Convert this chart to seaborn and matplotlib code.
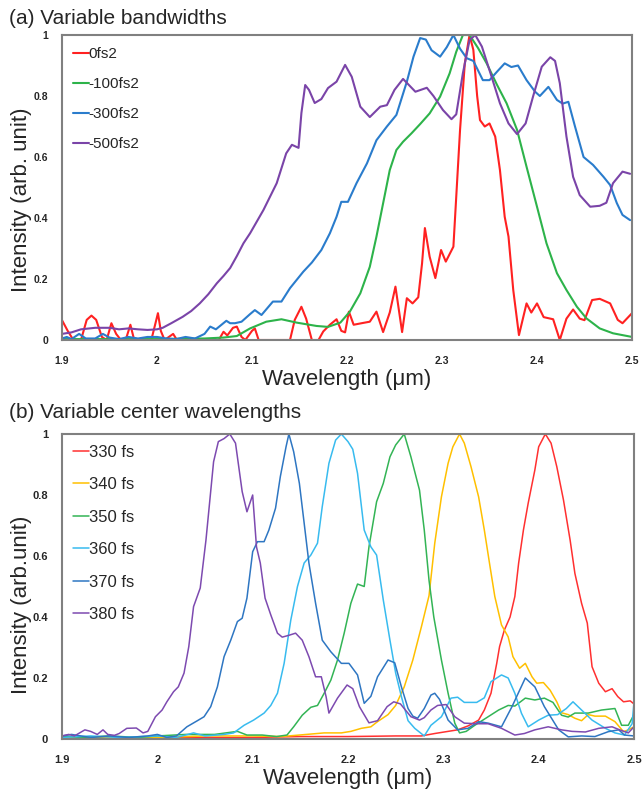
import pandas as pd
import numpy as np
import matplotlib
matplotlib.use("Agg")
import matplotlib.pyplot as plt
import seaborn as sns

# ---- (a) variable bandwidths: values ----
red_a_x = [1.900, 1.906, 1.912, 1.920, 1.926, 1.931, 1.936, 1.942, 1.947, 1.952, 1.957, 1.962,
           1.967, 1.972, 1.976, 1.994, 1.998, 2.001, 2.004, 2.008, 2.017, 2.021, 2.065, 2.070,
           2.074, 2.080, 2.084, 2.089, 2.093, 2.100, 2.103, 2.107, 2.140, 2.145, 2.152, 2.157,
           2.163, 2.170, 2.175, 2.182, 2.189, 2.194, 2.198, 2.202, 2.207, 2.217, 2.224, 2.231,
           2.238, 2.245, 2.251, 2.255, 2.258, 2.263, 2.269, 2.275, 2.279, 2.282, 2.287, 2.293,
           2.299, 2.304, 2.312, 2.315, 2.319, 2.324, 2.329, 2.333, 2.337, 2.340, 2.345, 2.350,
           2.356, 2.361, 2.366, 2.370, 2.375, 2.381, 2.389, 2.394, 2.400, 2.407, 2.417, 2.424,
           2.431, 2.438, 2.445, 2.450, 2.458, 2.466, 2.477, 2.485, 2.490, 2.500]
red_a_y = [0.065, 0.030, 0.000, 0.000, 0.066, 0.080, 0.066, 0.010, 0.000, 0.055, 0.020, 0.000,
           0.000, 0.050, 0.000, 0.000, 0.050, 0.088, 0.030, 0.000, 0.020, 0.000, 0.000, 0.027,
           0.015, 0.040, 0.044, 0.010, 0.000, 0.030, 0.038, 0.000, 0.000, 0.066, 0.109, 0.070,
           0.000, 0.000, 0.028, 0.050, 0.068, 0.030, 0.025, 0.093, 0.050, 0.056, 0.060, 0.093,
           0.026, 0.090, 0.175, 0.090, 0.026, 0.137, 0.120, 0.140, 0.251, 0.367, 0.273, 0.203,
           0.295, 0.257, 0.306, 0.470, 0.689, 0.907, 1.000, 0.951, 0.800, 0.721, 0.700, 0.710,
           0.667, 0.557, 0.404, 0.339, 0.164, 0.016, 0.120, 0.090, 0.120, 0.075, 0.068, 0.000,
           0.070, 0.100, 0.070, 0.065, 0.131, 0.135, 0.120, 0.066, 0.055, 0.088]

green_a_x = [1.900, 1.950, 2.000, 2.050, 2.070, 2.084, 2.098, 2.115, 2.131, 2.147, 2.168, 2.180,
             2.193, 2.203, 2.214, 2.224, 2.231, 2.238, 2.245, 2.252, 2.259, 2.268, 2.277, 2.287,
             2.298, 2.308, 2.315, 2.322, 2.329, 2.338, 2.347, 2.358, 2.368, 2.379, 2.389, 2.400,
             2.410, 2.421, 2.431, 2.442, 2.452, 2.466, 2.480, 2.500]
green_a_y = [0.003, 0.003, 0.003, 0.005, 0.008, 0.013, 0.038, 0.060, 0.068, 0.057, 0.046, 0.043,
             0.057, 0.093, 0.153, 0.240, 0.339, 0.448, 0.557, 0.623, 0.650, 0.678, 0.708, 0.743,
             0.798, 0.874, 0.945, 1.000, 1.000, 0.957, 0.907, 0.836, 0.776, 0.689, 0.568, 0.437,
             0.317, 0.219, 0.164, 0.109, 0.071, 0.038, 0.022, 0.010]

blue_a_x = [1.900, 1.905, 1.910, 1.918, 1.925, 1.935, 1.943, 1.950, 1.960, 1.970, 1.980, 1.990,
            2.000, 2.010, 2.020, 2.030, 2.040, 2.050, 2.056, 2.062, 2.073, 2.077, 2.082, 2.089,
            2.098, 2.103, 2.110, 2.122, 2.131, 2.140, 2.154, 2.163, 2.173, 2.182, 2.189, 2.194,
            2.201, 2.210, 2.221, 2.231, 2.242, 2.252, 2.263, 2.270, 2.277, 2.283, 2.289, 2.298,
            2.305, 2.312, 2.319, 2.326, 2.333, 2.343, 2.350, 2.358, 2.366, 2.373, 2.380, 2.389,
            2.398, 2.403, 2.412, 2.421, 2.427, 2.433, 2.440, 2.449, 2.459, 2.470, 2.477, 2.484,
            2.490, 2.498]
blue_a_y = [0.005, 0.010, 0.003, 0.020, 0.005, 0.005, 0.020, 0.008, 0.003, 0.010, 0.005, 0.010,
            0.010, 0.005, 0.003, 0.010, 0.005, 0.020, 0.044, 0.035, 0.063, 0.055, 0.055, 0.060,
            0.085, 0.098, 0.082, 0.126, 0.126, 0.170, 0.224, 0.254, 0.295, 0.350, 0.404, 0.453,
            0.453, 0.514, 0.579, 0.655, 0.700, 0.738, 0.847, 0.929, 0.990, 0.985, 0.950, 0.929,
            0.960, 1.000, 0.955, 0.924, 0.915, 0.852, 0.852, 0.880, 0.907, 0.895, 0.900, 0.852,
            0.814, 0.800, 0.830, 0.787, 0.775, 0.781, 0.700, 0.600, 0.574, 0.535, 0.508, 0.449,
            0.410, 0.393]

purple_a_x = [1.900, 1.910, 1.920, 1.935, 1.950, 1.960, 1.970, 1.980, 1.990, 2.000, 2.006, 2.015,
              2.027, 2.036, 2.045, 2.054, 2.063, 2.070, 2.077, 2.084, 2.091, 2.098, 2.112, 2.126,
              2.136, 2.142, 2.149, 2.152, 2.156, 2.160, 2.166, 2.173, 2.180, 2.189, 2.198, 2.205,
              2.214, 2.224, 2.235, 2.242, 2.250, 2.259, 2.272, 2.284, 2.291, 2.301, 2.310, 2.315,
              2.322, 2.329, 2.335, 2.342, 2.351, 2.361, 2.370, 2.379, 2.388, 2.396, 2.405, 2.414,
              2.419, 2.424, 2.431, 2.438, 2.445, 2.456, 2.466, 2.473, 2.480, 2.490, 2.498]
purple_a_y = [0.020, 0.025, 0.035, 0.040, 0.040, 0.035, 0.038, 0.035, 0.033, 0.035, 0.040, 0.055,
              0.076, 0.095, 0.120, 0.150, 0.186, 0.210, 0.236, 0.275, 0.317, 0.350, 0.426, 0.514,
              0.612, 0.640, 0.630, 0.744, 0.836, 0.820, 0.777, 0.790, 0.826, 0.847, 0.902, 0.863,
              0.765, 0.731, 0.765, 0.770, 0.820, 0.856, 0.814, 0.827, 0.800, 0.754, 0.724, 0.740,
              0.875, 0.983, 1.000, 0.962, 0.875, 0.776, 0.710, 0.675, 0.710, 0.800, 0.896, 0.927,
              0.915, 0.842, 0.667, 0.535, 0.475, 0.437, 0.440, 0.450, 0.514, 0.552, 0.545]

labels_a = ["0fs2", "-100fs2", "-300fs2", "-500fs2"]
colors_a = ["#ff2121", "#2db34a", "#2a7ccc", "#7a44a8"]

# ---- (b) variable center wavelengths ----
red_b_x = [1.900, 1.950, 2.000, 2.050, 2.100, 2.150, 2.200, 2.250, 2.277, 2.291, 2.305, 2.315,
           2.326, 2.337, 2.343, 2.350, 2.356, 2.359, 2.364, 2.370, 2.375, 2.379, 2.384, 2.389,
           2.396, 2.400, 2.407, 2.413, 2.419, 2.426, 2.433, 2.438, 2.445, 2.451, 2.456, 2.463,
           2.470, 2.477, 2.483, 2.489, 2.496, 2.500]
red_b_y = [0.005, 0.005, 0.003, 0.005, 0.005, 0.008, 0.008, 0.010, 0.010, 0.018, 0.025, 0.030,
           0.043, 0.062, 0.095, 0.150, 0.248, 0.303, 0.357, 0.400, 0.467, 0.577, 0.685, 0.773,
           0.882, 0.958, 1.000, 0.970, 0.893, 0.784, 0.652, 0.543, 0.445, 0.380, 0.237, 0.183,
           0.155, 0.165, 0.139, 0.122, 0.125, 0.115]

orange_b_x = [1.900, 1.950, 2.000, 2.050, 2.100, 2.130, 2.164, 2.175, 2.193, 2.203, 2.214, 2.224,
              2.231, 2.242, 2.250, 2.259, 2.268, 2.277, 2.285, 2.291, 2.298, 2.305, 2.310, 2.317,
              2.322, 2.329, 2.337, 2.343, 2.349, 2.354, 2.361, 2.368, 2.373, 2.380, 2.386, 2.393,
              2.398, 2.405, 2.412, 2.419, 2.424, 2.431, 2.438, 2.445, 2.452, 2.459, 2.470, 2.480,
              2.489, 2.494, 2.500]
orange_b_y = [0.005, 0.005, 0.005, 0.010, 0.010, 0.008, 0.017, 0.020, 0.020, 0.025, 0.035, 0.040,
              0.057, 0.080, 0.110, 0.171, 0.259, 0.368, 0.470, 0.642, 0.794, 0.904, 0.958, 1.000,
              0.970, 0.893, 0.794, 0.685, 0.565, 0.467, 0.374, 0.335, 0.270, 0.232, 0.248, 0.204,
              0.183, 0.185, 0.160, 0.122, 0.086, 0.080, 0.068, 0.060, 0.080, 0.075, 0.075, 0.057,
              0.024, 0.030, 0.040]

green_b_x = [1.900, 1.920, 1.950, 1.980, 2.000, 2.030, 2.060, 2.084, 2.094, 2.110, 2.125, 2.136,
             2.143, 2.152, 2.161, 2.168, 2.175, 2.182, 2.189, 2.196, 2.203, 2.210, 2.217, 2.222,
             2.230, 2.237, 2.244, 2.250, 2.259, 2.266, 2.275, 2.280, 2.285, 2.290, 2.298, 2.305,
             2.312, 2.317, 2.324, 2.333, 2.347, 2.358, 2.368, 2.375, 2.386, 2.396, 2.406, 2.415,
             2.424, 2.431, 2.438, 2.452, 2.466, 2.480, 2.487, 2.494, 2.500]
green_b_y = [0.010, 0.005, 0.010, 0.005, 0.010, 0.015, 0.015, 0.025, 0.013, 0.013, 0.008, 0.013,
             0.040, 0.078, 0.104, 0.110, 0.150, 0.193, 0.259, 0.347, 0.445, 0.508, 0.500, 0.630,
             0.778, 0.838, 0.925, 0.964, 1.000, 0.925, 0.816, 0.685, 0.520, 0.400, 0.259, 0.150,
             0.052, 0.020, 0.025, 0.045, 0.073, 0.095, 0.110, 0.108, 0.134, 0.128, 0.134, 0.120,
             0.078, 0.072, 0.085, 0.085, 0.095, 0.100, 0.045, 0.045, 0.080]

cyan_b_x = [1.900, 1.930, 1.960, 2.000, 2.020, 2.038, 2.050, 2.070, 2.080, 2.091, 2.101, 2.112,
            2.119, 2.126, 2.133, 2.140, 2.147, 2.154, 2.161, 2.168, 2.173, 2.180, 2.187, 2.193,
            2.200, 2.205, 2.210, 2.217, 2.224, 2.230, 2.237, 2.244, 2.250, 2.256, 2.263, 2.270,
            2.280, 2.287, 2.298, 2.308, 2.315, 2.322, 2.335, 2.343, 2.350, 2.361, 2.368, 2.375,
            2.382, 2.389, 2.400, 2.410, 2.420, 2.429, 2.436, 2.445, 2.456, 2.470, 2.480, 2.490,
            2.498, 2.500]
cyan_b_y = [0.005, 0.010, 0.005, 0.010, 0.005, 0.020, 0.010, 0.015, 0.020, 0.045, 0.062, 0.085,
            0.110, 0.150, 0.248, 0.390, 0.500, 0.577, 0.603, 0.642, 0.762, 0.904, 0.980, 1.000,
            0.975, 0.950, 0.871, 0.685, 0.630, 0.603, 0.456, 0.324, 0.216, 0.139, 0.060, 0.035,
            0.010, 0.045, 0.073, 0.134, 0.137, 0.120, 0.120, 0.135, 0.188, 0.210, 0.200, 0.150,
            0.084, 0.040, 0.062, 0.078, 0.080, 0.100, 0.122, 0.095, 0.062, 0.035, 0.020, 0.013,
            0.050, 0.120]

blue_b_x = [1.900, 1.910, 1.930, 1.950, 1.970, 1.990, 2.000, 2.010, 2.020, 2.031, 2.042, 2.049,
            2.056, 2.063, 2.070, 2.077, 2.084, 2.089, 2.094, 2.100, 2.105, 2.112, 2.117, 2.124,
            2.129, 2.135, 2.138, 2.143, 2.149, 2.154, 2.159, 2.166, 2.173, 2.182, 2.193, 2.201,
            2.210, 2.217, 2.224, 2.231, 2.242, 2.249, 2.256, 2.263, 2.268, 2.273, 2.280, 2.287,
            2.291, 2.296, 2.305, 2.315, 2.326, 2.337, 2.347, 2.361, 2.372, 2.386, 2.396, 2.406,
            2.421, 2.431, 2.445, 2.459, 2.473, 2.484, 2.490, 2.500]
blue_b_y = [0.010, 0.015, 0.005, 0.010, 0.005, 0.010, 0.015, 0.005, 0.010, 0.040, 0.060, 0.073,
            0.106, 0.171, 0.270, 0.324, 0.385, 0.396, 0.462, 0.614, 0.647, 0.647, 0.685, 0.757,
            0.860, 0.958, 1.000, 0.942, 0.838, 0.708, 0.577, 0.445, 0.324, 0.286, 0.248, 0.248,
            0.210, 0.117, 0.140, 0.204, 0.259, 0.250, 0.171, 0.100, 0.075, 0.068, 0.100, 0.144,
            0.150, 0.130, 0.062, 0.030, 0.035, 0.057, 0.052, 0.040, 0.106, 0.200, 0.171, 0.106,
            0.030, 0.007, 0.010, 0.008, 0.024, 0.030, 0.013, 0.010]

purple_b_x = [1.900, 1.907, 1.913, 1.924, 1.930, 1.937, 1.943, 1.948, 1.955, 1.960, 1.968, 1.978,
              1.985, 1.990, 1.998, 2.005, 2.010, 2.017, 2.022, 2.028, 2.033, 2.038, 2.045, 2.051,
              2.059, 2.064, 2.070, 2.076, 2.082, 2.089, 2.094, 2.100, 2.104, 2.108, 2.113, 2.119,
              2.126, 2.131, 2.138, 2.145, 2.152, 2.159, 2.166, 2.172, 2.177, 2.180, 2.189, 2.199,
              2.205, 2.212, 2.222, 2.231, 2.241, 2.248, 2.255, 2.266, 2.275, 2.280, 2.287, 2.294,
              2.303, 2.312, 2.322, 2.335, 2.347, 2.361, 2.375, 2.385, 2.396, 2.410, 2.424, 2.435,
              2.449, 2.463, 2.477, 2.485, 2.494, 2.500]
purple_b_y = [0.010, 0.015, 0.010, 0.030, 0.025, 0.015, 0.030, 0.015, 0.012, 0.018, 0.035, 0.036,
              0.020, 0.025, 0.073, 0.095, 0.122, 0.155, 0.171, 0.216, 0.303, 0.434, 0.495, 0.652,
              0.909, 0.975, 0.985, 1.000, 0.970, 0.811, 0.745, 0.800, 0.630, 0.577, 0.462, 0.407,
              0.347, 0.334, 0.340, 0.347, 0.324, 0.270, 0.204, 0.204, 0.139, 0.085, 0.134, 0.177,
              0.165, 0.106, 0.053, 0.060, 0.106, 0.122, 0.115, 0.073, 0.062, 0.070, 0.095, 0.110,
              0.113, 0.073, 0.052, 0.050, 0.050, 0.035, 0.013, 0.018, 0.030, 0.040, 0.030, 0.025,
              0.023, 0.035, 0.040, 0.030, 0.020, 0.040]

labels_b = ["330 fs", "340 fs", "350 fs", "360 fs", "370 fs", "380 fs"]
colors_b = ["#ff3030", "#ffc000", "#33b455", "#38bbef", "#2e76c2", "#7d4ab0"]

x_ticks = [1.9, 2.0, 2.1, 2.2, 2.3, 2.4, 2.5]
x_tick_labels = ["1.9", "2", "2.1", "2.2", "2.3", "2.4", "2.5"]
y_ticks = [0, 0.2, 0.4, 0.6, 0.8, 1.0]
y_tick_labels = ["0", "0.2", "0.4", "0.6", "0.8", "1"]


def long_frame(xs, ys, labels):
    parts = []
    for x, y, lab in zip(xs, ys, labels):
        parts.append(pd.DataFrame({"wl": x, "I": y, "series": lab}))
    return pd.concat(parts, ignore_index=True)


df_a = long_frame([red_a_x, green_a_x, blue_a_x, purple_a_x],
                  [red_a_y, green_a_y, blue_a_y, purple_a_y], labels_a)
df_b = long_frame([red_b_x, orange_b_x, green_b_x, cyan_b_x, blue_b_x, purple_b_x],
                  [red_b_y, orange_b_y, green_b_y, cyan_b_y, blue_b_y, purple_b_y], labels_b)

sns.set_style("white")
plt.rcParams["font.family"] = ["Liberation Sans", "DejaVu Sans"]

fig = plt.figure(figsize=(6.42, 7.89), dpi=100)
ax_a = fig.add_axes([62 / 642, 449 / 789, 570 / 642, 305 / 789])
ax_b = fig.add_axes([62 / 642, 50 / 789, 572 / 642, 305 / 789])

sns.lineplot(data=df_a, x="wl", y="I", hue="series", hue_order=labels_a,
             palette=dict(zip(labels_a, colors_a)), estimator=None, linewidth=1.5, ax=ax_a)
sns.lineplot(data=df_b, x="wl", y="I", hue="series", hue_order=labels_b,
             palette=dict(zip(labels_b, colors_b)), estimator=None, linewidth=1.1, ax=ax_b)


def style_axes(ax, ylabel, tick_size, label_y):
    ax.set_xlim(1.9, 2.5)
    ax.set_ylim(0, 1)
    ax.set_xticks(x_ticks)
    ax.set_xticklabels(x_tick_labels, fontweight="bold", fontsize=tick_size)
    ax.set_yticks(y_ticks)
    ax.set_yticklabels(y_tick_labels, fontweight="bold", fontsize=tick_size)
    ax.tick_params(axis="x", direction="in", length=3, width=1, color="#808080", pad=11.5)
    ax.tick_params(axis="y", direction="in", length=3, width=1, color="#808080", pad=10)
    for s in ax.spines.values():
        s.set_color("#808080")
        s.set_linewidth(1.5)
    ax.set_xlabel("Wavelength (\u03bcm)", fontsize=16, labelpad=2)
    ax.set_ylabel(ylabel, fontsize=16)
    ax.yaxis.set_label_coords(-0.052, label_y)
    ax.grid(False)


style_axes(ax_a, "Intensity (arb. unit)", 7.5, 0.46)
style_axes(ax_b, "Intensity (arb.unit)", 8, 0.44)

h, l = ax_a.get_legend_handles_labels()
ax_a.legend(h, l, loc="upper left", bbox_to_anchor=(0.02, 0.96), frameon=False,
            fontsize=11, handlelength=1.0, handletextpad=0.0, labelspacing=1.05,
            borderpad=0, borderaxespad=0)
h, l = ax_b.get_legend_handles_labels()
ax_b.legend(h, l, loc="upper left", bbox_to_anchor=(0.02, 0.965), frameon=False,
            fontsize=12, handlelength=0.95, handletextpad=0.0, labelspacing=1.05,
            borderpad=0, borderaxespad=0)

fig.text(9 / 642, 1 - 18 / 789, "(a) Variable bandwidths", fontsize=15, va="center", ha="left")
fig.text(9 / 642, 1 - 413 / 789, "(b) Variable center wavelengths", fontsize=15,
         va="center", ha="left")

fig.savefig("out.png", dpi=100)
